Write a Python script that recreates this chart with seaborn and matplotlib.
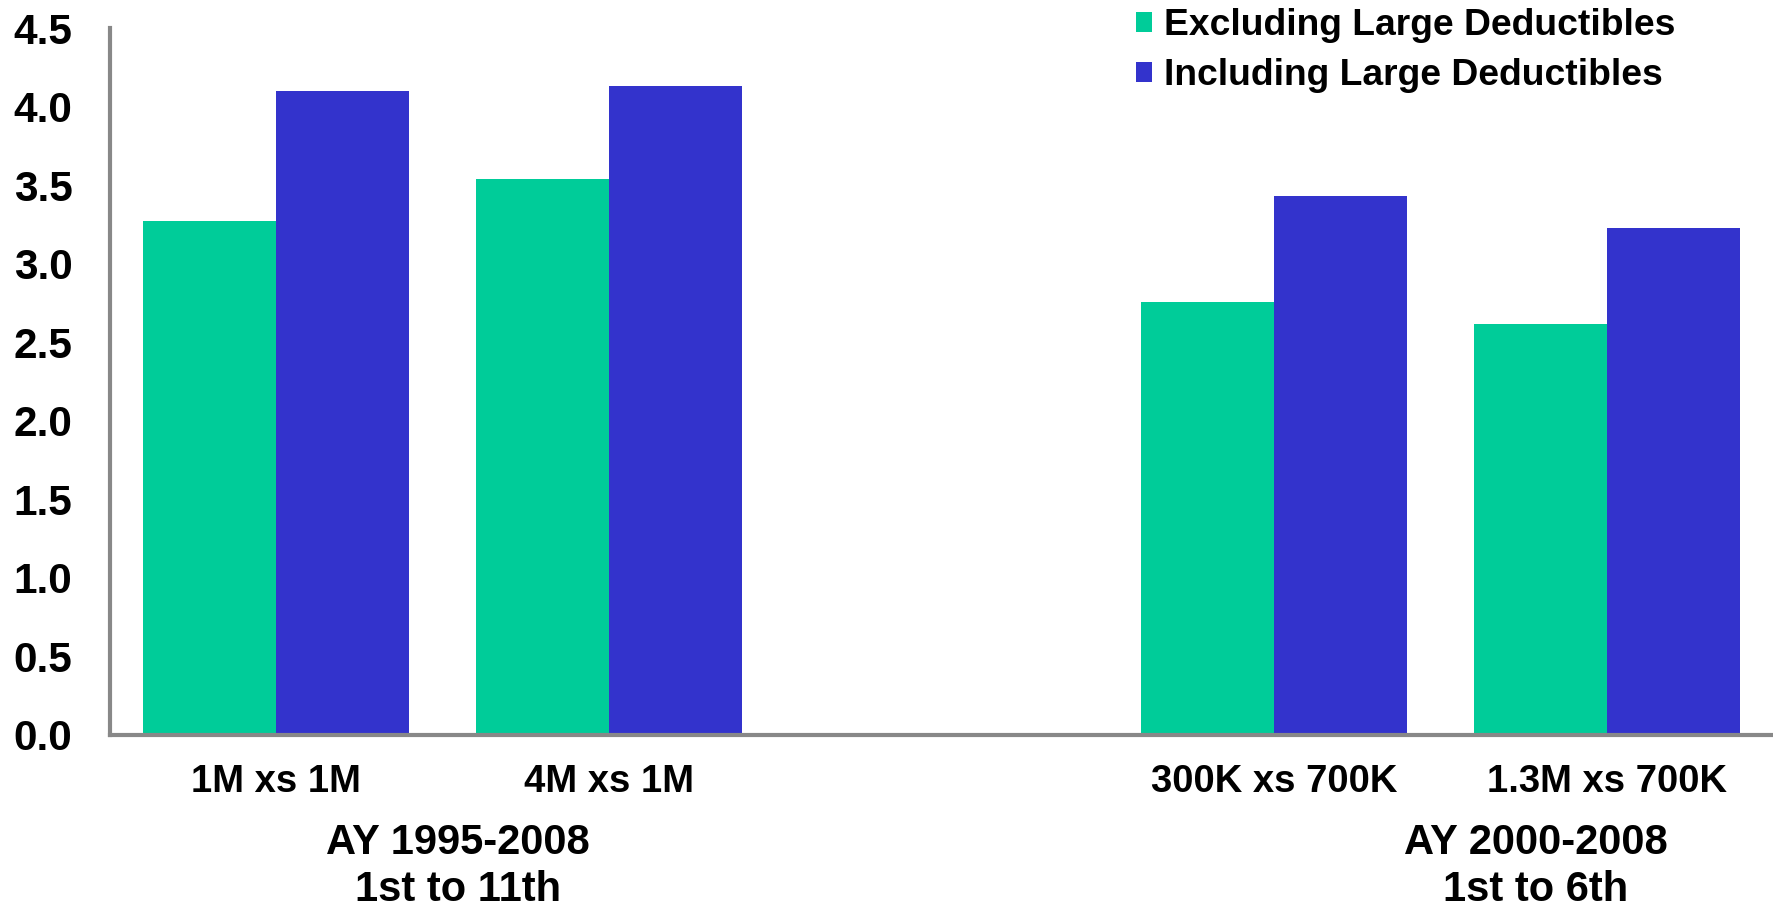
import matplotlib
matplotlib.use("Agg")
import matplotlib.pyplot as plt
import matplotlib.transforms as mtransforms
import seaborn as sns
import pandas as pd

# Development factors by layer
layers = ["1M xs 1M", "4M xs 1M", "300K xs 700K", "1.3M xs 700K"]
excluding = [3.27, 3.54, 2.76, 2.62]
including = [4.10, 4.13, 3.43, 3.23]
series_names = ["Excluding Large Deductibles", "Including Large Deductibles"]
group_labels = ["AY 1995-2008\n1st to 11th", "AY 2000-2008\n1st to 6th"]
y_ticks = [0.0, 0.5, 1.0, 1.5, 2.0, 2.5, 3.0, 3.5, 4.0, 4.5]

gap = " "
order = layers[:2] + [gap] + layers[2:]

df = pd.DataFrame({
    "layer": layers * 2,
    "series": [series_names[0]] * len(layers) + [series_names[1]] * len(layers),
    "value": excluding + including,
})

sns.set_style("white")
plt.rcParams["font.family"] = ["Liberation Sans", "DejaVu Sans"]
plt.rcParams["font.weight"] = "bold"
plt.rcParams["text.color"] = "black"
plt.rcParams["xtick.color"] = "black"
plt.rcParams["ytick.color"] = "black"

fig = plt.figure(figsize=(17.73, 9.13), dpi=100)
ax = fig.add_axes([0.062, 0.195, 0.938, 0.774])

palette = {series_names[0]: "#00CC99", series_names[1]: "#3333CC"}
sns.barplot(data=df, x="layer", y="value", hue="series", order=order,
            hue_order=series_names, palette=palette, saturation=1,
            width=0.8, linewidth=0, ax=ax)

ax.set_xlim(-0.5, 4.5)
ax.set_ylim(0, 4.5)
ax.set_yticks(y_ticks)
ax.set_yticklabels([f"{v:.1f}" for v in y_ticks], fontsize=30.5, fontweight="bold")
ax.tick_params(axis="y", length=0, pad=27, labelcolor="black")
ax.tick_params(axis="x", length=0, pad=21, labelsize=27.5, labelcolor="black")
for lbl in ax.get_xticklabels():
    lbl.set_fontweight("bold")
ax.set_xlabel("")
ax.set_ylabel("")

for side in ["top", "right"]:
    ax.spines[side].set_visible(False)
for side in ["left", "bottom"]:
    ax.spines[side].set_color("#888888")
    ax.spines[side].set_linewidth(3)

# Accident-year group captions below the layer labels
trans = mtransforms.blended_transform_factory(ax.transData, fig.transFigure)
for xpos, text in zip([0.546, 3.786], group_labels):
    ax.text(xpos, 0.051, text, transform=trans, ha="center", va="center",
            fontsize=30, fontweight="bold", linespacing=1.22, color="black")

leg = ax.legend(loc="upper right", bbox_to_anchor=(0.95, 1.05), frameon=False,
                fontsize=26.8, handlelength=0.45, handleheight=0.45,
                handletextpad=0.3, labelspacing=0.42, borderaxespad=0)
for t in leg.get_texts():
    t.set_fontweight("bold")
    t.set_color("black")

fig.savefig("out.png", dpi=100)
